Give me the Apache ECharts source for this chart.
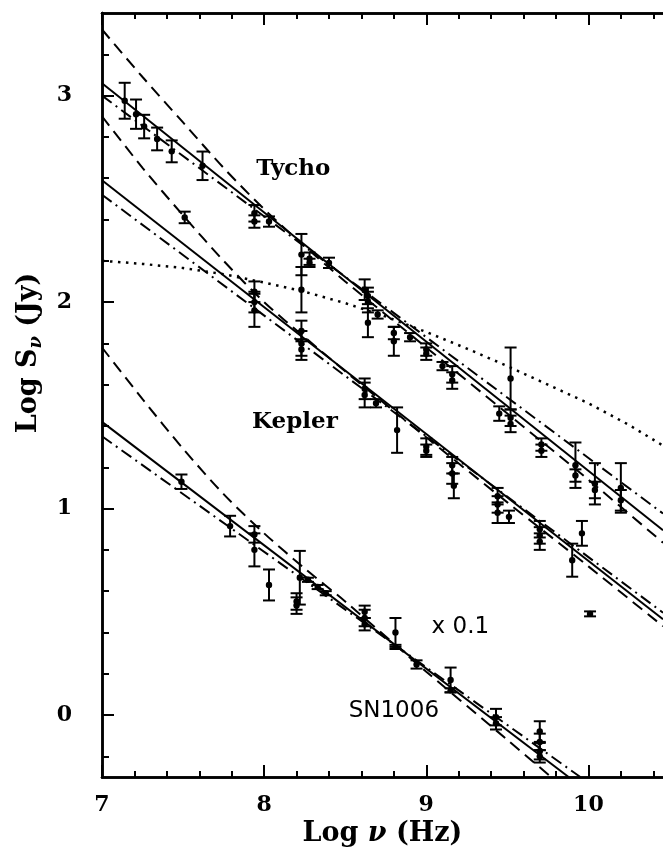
<!DOCTYPE html>
<html>
<head>
<meta charset="utf-8">
<script src="https://cdn.jsdelivr.net/npm/echarts@6/dist/echarts.min.js"></script>
<style>
  html, body { margin: 0; padding: 0; background: #fff; }
  #chart { width: 663px; height: 858px; }
</style>
</head>
<body>
<div id="chart"></div>
<script>
/* radio spectra of the three remnants, log nu (Hz) vs log S (Jy) */
var tychoLogNu = [7.14, 7.21, 7.26, 7.34, 7.43, 7.62, 7.94, 7.94, 8.03, 8.23, 8.23, 8.28, 8.28, 8.40,
    8.62, 8.64, 8.64, 8.64, 8.70, 8.80, 8.80, 8.90, 9.00, 9.00, 9.10, 9.16, 9.16, 9.45, 9.52, 9.52,
    9.52, 9.71, 9.71, 9.92, 9.92, 10.04, 10.04, 10.20, 10.20];
var tychoLogS = [2.975, 2.91, 2.85, 2.79, 2.73, 2.66, 2.43, 2.39, 2.39, 2.23, 2.06, 2.21, 2.19, 2.19,
    2.06, 2.03, 2.0, 1.90, 1.94, 1.85, 1.81, 1.83, 1.77, 1.75, 1.69, 1.65, 1.62, 1.46, 1.63, 1.44,
    1.41, 1.31, 1.28, 1.21, 1.16, 1.12, 1.09, 1.10, 1.04];
var tychoErr = [0.087, 0.071, 0.057, 0.055, 0.053, 0.069, 0.04, 0.03, 0.025, 0.1, 0.11, 0.03, 0.02, 0.025,
    0.05, 0.04, 0.05, 0.07, 0.02, 0.03, 0.07, 0.02, 0.03, 0.03, 0.02, 0.04, 0.04, 0.035, 0.15, 0.04,
    0.04, 0.03, 0.03, 0.11, 0.03, 0.1, 0.04, 0.12, 0.05];

var keplerLogNu = [7.51, 7.94, 7.94, 7.94, 8.23, 8.23, 8.23, 8.62, 8.62, 8.69, 8.82, 9.00, 9.00,
    9.16, 9.16, 9.17, 9.44, 9.44, 9.44, 9.51, 9.70, 9.70, 9.70, 9.96, 9.90, 10.01];
var keplerLogS = [2.41, 2.05, 2.00, 1.96, 1.86, 1.80, 1.77, 1.58, 1.55, 1.51, 1.38, 1.30, 1.28,
    1.21, 1.17, 1.11, 1.06, 1.02, 0.98, 0.96, 0.90, 0.87, 0.84, 0.88, 0.75, 0.49];
var keplerErr = [0.028, 0.05, 0.05, 0.08, 0.05, 0.06, 0.05, 0.05, 0.06, 0.02, 0.11, 0.04, 0.03,
    0.04, 0.05, 0.06, 0.04, 0.04, 0.05, 0.03, 0.04, 0.04, 0.04, 0.06, 0.08, 0.012];

// SN1006 is scaled by 0.1
var snLogNu = [7.49, 7.79, 7.94, 7.94, 8.03, 8.20, 8.20, 8.22, 8.27, 8.33, 8.38, 8.62, 8.62, 8.62,
    8.81, 8.81, 8.94, 9.15, 9.15, 9.43, 9.43, 9.70, 9.70, 9.70, 9.70];
var snLogS = [1.13, 0.915, 0.875, 0.80, 0.63, 0.55, 0.53, 0.665, 0.655, 0.62, 0.59, 0.50, 0.47, 0.44,
    0.40, 0.33, 0.245, 0.17, 0.12, -0.01, -0.04, -0.08, -0.13, -0.175, -0.20];
var snErr = [0.035, 0.05, 0.04, 0.08, 0.075, 0.04, 0.04, 0.13, 0.01, 0.01, 0.01, 0.03, 0.04, 0.03,
    0.07, 0.01, 0.02, 0.06, 0.01, 0.04, 0.03, 0.05, 0.04, 0.04, 0.03];

// model curves: solid = power law, dash-dot = second fit, dashed = curved spectrum
var tychoSolid = [[7, 3.06], [10.46, 0.895]];
var tychoDashDot = [[7, 3.0], [10.46, 0.976]];
var tychoDashed = [[7, 3.32], [7.25, 3.09], [7.5, 2.87], [7.75, 2.65], [8.0, 2.45], [8.25, 2.27],
    [8.5, 2.1], [9.0, 1.78], [9.5, 1.46], [10.0, 1.14], [10.46, 0.835]];
var keplerSolid = [[7, 2.59], [10.46, 0.464]];
var keplerDashDot = [[7, 2.52], [10.46, 0.496]];
var keplerDashed = [[7, 2.9], [7.25, 2.65], [7.5, 2.42], [7.75, 2.2], [8.0, 2.0], [8.25, 1.83],
    [8.5, 1.665], [9.0, 1.345], [9.5, 1.03], [10.0, 0.72], [10.46, 0.43]];
var snSolid = [[7, 1.42], [9.878, -0.3]];
var snDashDot = [[7, 1.35], [9.95, -0.3]];
var snDashed = [[7, 1.78], [7.25, 1.53], [7.5, 1.29], [7.75, 1.07], [8.0, 0.88], [8.25, 0.71],
    [8.5, 0.55], [9.0, 0.21], [9.5, -0.12], [9.77, -0.3]];
var dottedCurve = [[7, 2.2], [7.25, 2.185], [7.5, 2.165], [7.75, 2.135], [8.0, 2.095], [8.25, 2.05],
    [8.5, 1.995], [8.75, 1.93], [9.0, 1.855], [9.25, 1.775], [9.5, 1.69], [9.75, 1.6], [10.0, 1.51],
    [10.25, 1.405], [10.46, 1.305]];

var xMajorTicks = [7, 8, 9, 10];
var xMinorTicks = [7.2, 7.4, 7.6, 7.8, 8.2, 8.4, 8.6, 8.8, 9.2, 9.4, 9.6, 9.8, 10.2, 10.4];
var yMajorTicks = [0, 1, 2, 3];
var yMinorTicks = [-0.2, 0.2, 0.4, 0.6, 0.8, 1.2, 1.4, 1.6, 1.8, 2.2, 2.4, 2.6, 2.8, 3.2];

var serif = '"DejaVu Serif", serif';
var sans = '"DejaVu Sans", sans-serif';

function pts(xs, ys, es) {
    var out = [];
    for (var i = 0; i < xs.length; i++) {
        out.push([xs[i], ys[i], es[i]]);
    }
    return out;
}

function renderErrorBar(params, api) {
    var x = api.value(0), y = api.value(1), e = api.value(2);
    var p = api.coord([x, y]);
    var hi = api.coord([x, y + e]);
    var lo = api.coord([x, y - e]);
    var half = 6;
    var st = { stroke: '#000', lineWidth: 2 };
    return {
        type: 'group',
        children: [
            { type: 'line', shape: { x1: p[0], y1: hi[1], x2: p[0], y2: lo[1] }, style: st },
            { type: 'line', shape: { x1: p[0] - half, y1: hi[1], x2: p[0] + half, y2: hi[1] }, style: st },
            { type: 'line', shape: { x1: p[0] - half, y1: lo[1], x2: p[0] + half, y2: lo[1] }, style: st },
            { type: 'circle', shape: { cx: p[0], cy: p[1], r: 3.2 }, style: { fill: '#000' } }
        ]
    };
}

function errSeries(name, data) {
    return {
        name: name,
        type: 'custom',
        renderItem: renderErrorBar,
        data: data,
        encode: { x: 0, y: [1, 2] },
        clip: true,
        z: 5
    };
}

function lineSeries(data, dash, smooth, width) {
    return {
        type: 'line',
        data: data,
        showSymbol: false,
        smooth: smooth ? 0.3 : false,
        lineStyle: { color: '#000', width: width || 2, type: dash },
        silent: true,
        z: 3
    };
}

var dashed = [12, 7];
var dashDot = [12, 5, 2, 5];
var dotted = [2.5, 5.5];

function axisX(pos, ticks, len, withLabels) {
    return {
        type: 'value', position: pos, min: 7, max: 10.46,
        axisLine: { show: true, onZero: false, lineStyle: { color: '#000', width: 2.5 } },
        axisTick: { show: true, inside: true, length: len, customValues: ticks, lineStyle: { color: '#000', width: 2 } },
        axisLabel: withLabels ? {
            show: true, customValues: xMajorTicks, color: '#000', fontFamily: serif,
            fontWeight: 'bold', fontSize: 22, margin: 17
        } : { show: false },
        splitLine: { show: false }
    };
}

function axisY(pos, ticks, len, withLabels) {
    return {
        type: 'value', position: pos, min: -0.3, max: 3.4,
        axisLine: { show: true, onZero: false, lineStyle: { color: '#000', width: 2.5 } },
        axisTick: { show: true, inside: true, length: len, customValues: ticks, lineStyle: { color: '#000', width: 2 } },
        axisLabel: withLabels ? {
            show: true, customValues: yMajorTicks, color: '#000', fontFamily: serif,
            fontWeight: 'bold', fontSize: 22, margin: 30
        } : { show: false },
        splitLine: { show: false }
    };
}

var chart = echarts.init(document.getElementById('chart'), null, { renderer: 'canvas' });

var xBottom = axisX('bottom', xMajorTicks, 12, true);
xBottom.name = 'Log {g|ν} (Hz)';
xBottom.nameLocation = 'middle';
xBottom.nameGap = 41;
xBottom.nameTextStyle = {
    color: '#000', fontFamily: serif, fontWeight: 'bold', fontSize: 27,
    rich: { g: { fontFamily: serif, fontWeight: 'bold', fontSize: 27, fontStyle: 'italic', color: '#000' } }
};

var yLeft = axisY('left', yMajorTicks, 12, true);
yLeft.name = 'Log S{s|ν} (Jy)';
yLeft.nameLocation = 'middle';
yLeft.nameGap = 56;
yLeft.nameTextStyle = {
    color: '#000', fontFamily: serif, fontWeight: 'bold', fontSize: 27,
    padding: [0, 0, 0, 84],
    rich: { s: { fontFamily: serif, fontWeight: 'bold', fontSize: 18, fontStyle: 'italic', color: '#000', padding: [15, 0, 0, 0] } }
};

function textLabel(text, family, weight, size) {
    return {
        formatter: text, fontFamily: family, fontWeight: weight, fontSize: size,
        color: '#000', textBorderWidth: 0, opacity: 1
    };
}

var option = {
    animation: false,
    backgroundColor: '#fff',
    grid: { left: 102, top: 13, width: 563, height: 764, containLabel: false },
    xAxis: [
        xBottom,
        axisX('bottom', xMinorTicks, 6, false),
        axisX('top', xMajorTicks, 12, false),
        axisX('top', xMinorTicks, 6, false)
    ],
    yAxis: [
        yLeft,
        axisY('left', yMinorTicks, 7, false)
    ],
    series: [
        lineSeries(tychoSolid, 'solid', false),
        lineSeries(tychoDashDot, dashDot, false),
        lineSeries(tychoDashed, dashed, true),
        lineSeries(keplerSolid, 'solid', false),
        lineSeries(keplerDashDot, dashDot, false),
        lineSeries(keplerDashed, dashed, true),
        lineSeries(snSolid, 'solid', false),
        lineSeries(snDashDot, dashDot, false),
        lineSeries(snDashed, dashed, true),
        lineSeries(dottedCurve, dotted, false, 2.5),
        errSeries('Tycho', pts(tychoLogNu, tychoLogS, tychoErr)),
        errSeries('Kepler', pts(keplerLogNu, keplerLogS, keplerErr)),
        errSeries('SN1006', pts(snLogNu, snLogS, snErr)),
        {
            type: 'scatter',
            symbolSize: 1,
            itemStyle: { color: 'rgba(0,0,0,0)' },
            silent: true,
            z: 6,
            data: [
                { value: [8.18, 2.645], label: textLabel('Tycho', serif, 'bold', 23) },
                { value: [8.19, 1.418], label: textLabel('Kepler', serif, 'bold', 23) },
                { value: [9.21, 0.424], label: textLabel('x 0.1', sans, 'normal', 23) },
                { value: [8.80, 0.019], label: textLabel('SN1006', sans, 'normal', 23) }
            ],
            label: { show: true, position: 'inside', color: '#000' },
            emphasis: { disabled: true }
        }
    ]
};

chart.setOption(option);
</script>
</body>
</html>
